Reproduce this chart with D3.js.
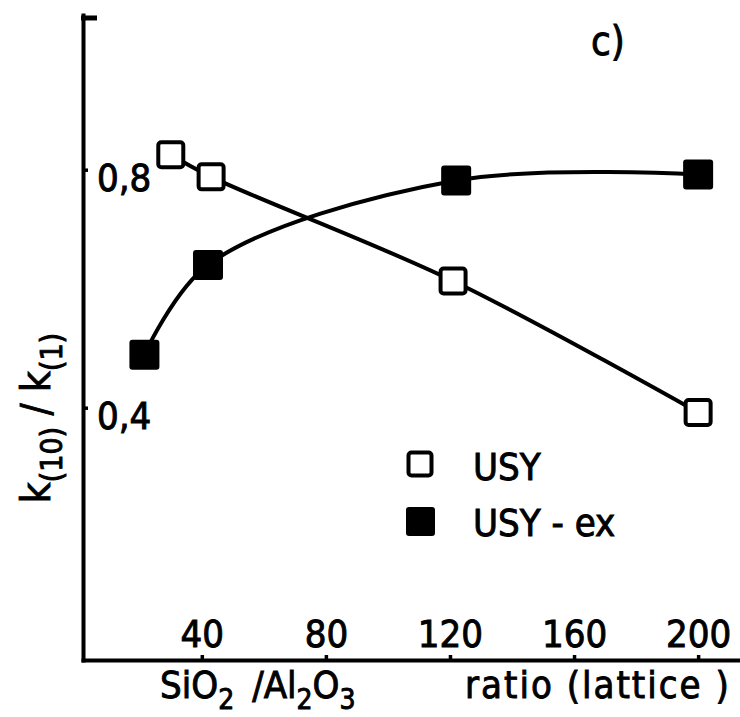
<!DOCTYPE html>
<html>
<head>
<meta charset="utf-8">
<script src="https://cdn.jsdelivr.net/npm/d3@7"></script>
<style>
  body { margin: 0; background: #fff; }
  text { font-family: "DejaVu Sans Condensed", "DejaVu Sans", sans-serif; fill: #000; stroke: #000; stroke-width: 0.9; }
</style>
</head>
<body>
<div class="chart"></div>
<script>
// data
var usyX = [30, 43, 121, 200];
var usyY = [0.825, 0.788, 0.613, 0.392];
var usyExX = [21.5, 42, 122, 200];
var usyExY = [0.489, 0.640, 0.782, 0.792];

var xTicks = [40, 80, 120, 160, 200];
var yTicks = [0.4, 0.8];
var seriesNames = ["USY", "USY - ex"];

var width = 740;
var height = 717;

var svg = d3.select('.chart').append('svg')
    .attr('width', width)
    .attr('height', height);

// axis origin sits at (83, 660)
var x = d3.scaleLinear().domain([1.7, 213.5]).range([83, 740]);
var y = d3.scaleLinear().domain([-0.024, 1.06]).range([660, 15]);

var usy = usyX.map(function (d, i) { return {x: d, y: usyY[i]}; });
var usyEx = usyExX.map(function (d, i) { return {x: d, y: usyExY[i]}; });

// x axis, labels sit above the line
var xAxis = svg.append('g')
    .attr('transform', 'translate(0,' + y.range()[0] + ')')
    .call(d3.axisTop(x).tickValues(xTicks).tickSize(5).tickSizeOuter(0).tickPadding(8));
xAxis.selectAll('text').attr('font-size', 38).attr('dy', 0);

// y axis, labels on the inside
var yAxis = svg.append('g')
    .attr('transform', 'translate(' + x.range()[0] + ',0)')
    .call(d3.axisRight(y).tickValues(yTicks).tickSize(5).tickSizeOuter(0).tickPadding(9)
      .tickFormat(function (d) { return d3.format('.1f')(d).replace('.', ','); }));
yAxis.selectAll('text').attr('font-size', 38).attr('dy', '0.55em');

svg.selectAll('.domain').attr('stroke-width', 4).attr('stroke-linecap', 'square');
svg.selectAll('.tick line').attr('stroke-width', 3.5);

// little end mark at the top of the y axis
svg.append('line')
    .attr('x1', x.range()[0] - 2).attr('x2', x.range()[0] + 14)
    .attr('y1', y(1.055)).attr('y2', y(1.055))
    .attr('stroke', '#000').attr('stroke-width', 5);

// curves
var line = d3.line()
    .x(function (d) { return x(d.x); })
    .y(function (d) { return y(d.y); })
    .curve(d3.curveCatmullRom);

svg.append('path').datum(usyEx).attr('d', line)
    .attr('fill', 'none').attr('stroke', '#000').attr('stroke-width', 4);
svg.append('path').datum(usy).attr('d', line)
    .attr('fill', 'none').attr('stroke', '#000').attr('stroke-width', 4);

// markers
var openSize = 25, fullSize = 30;
svg.selectAll('.usy').data(usy).enter().append('rect')
    .attr('class', 'usy')
    .attr('x', function (d) { return x(d.x) - openSize / 2; })
    .attr('y', function (d) { return y(d.y) - openSize / 2; })
    .attr('width', openSize).attr('height', openSize).attr('rx', 3)
    .attr('fill', '#fff').attr('stroke', '#000').attr('stroke-width', 4);

svg.selectAll('.usyex').data(usyEx).enter().append('rect')
    .attr('class', 'usyex')
    .attr('x', function (d) { return x(d.x) - fullSize / 2; })
    .attr('y', function (d) { return y(d.y) - fullSize / 2; })
    .attr('width', fullSize).attr('height', fullSize).attr('rx', 3)
    .attr('fill', '#000');

// legend
var legend = svg.append('g').attr('transform', 'translate(420,464)');
legend.append('rect').attr('x', -11.5).attr('y', -11.5).attr('width', 23).attr('height', 23).attr('rx', 3)
    .attr('fill', '#fff').attr('stroke', '#000').attr('stroke-width', 4);
legend.append('rect').attr('x', -14).attr('y', 43).attr('width', 29).attr('height', 29).attr('rx', 3)
    .attr('fill', '#000');
legend.selectAll('.lab').data(seriesNames).enter().append('text')
    .attr('class', 'lab')
    .attr('x', 53)
    .attr('y', function (d, i) { return 16 + i * 56; })
    .attr('font-size', 38)
    .text(function (d) { return d; });

// panel label
svg.append('text').attr('x', 591).attr('y', 55).attr('font-size', 40).text('c)');

// x title with subscripts
var xt = svg.append('text').attr('x', 160).attr('y', 698).attr('font-size', 38);
xt.append('tspan').text('SiO');
xt.append('tspan').attr('font-size', 28).attr('dy', 11).text('2');
xt.append('tspan').attr('dy', -11).attr('dx', 18).text('/Al');
xt.append('tspan').attr('font-size', 28).attr('dy', 11).text('2');
xt.append('tspan').attr('dy', -11).text('O');
xt.append('tspan').attr('font-size', 28).attr('dy', 11).text('3');
svg.append('text').attr('x', 465).attr('y', 698).attr('font-size', 38)
    .attr('letter-spacing', 2).text('ratio (lattice )');

// y title, rotated
var yt = svg.append('text')
    .attr('transform', 'translate(50,418) rotate(-90)')
    .attr('text-anchor', 'middle')
    .attr('font-size', 40);
yt.append('tspan').text('k');
yt.append('tspan').attr('font-size', 30).attr('dy', 12).text('(10)');
yt.append('tspan').attr('dy', -12).text(' / k');
yt.append('tspan').attr('font-size', 30).attr('dy', 12).text('(1)');
</script>
</body>
</html>
